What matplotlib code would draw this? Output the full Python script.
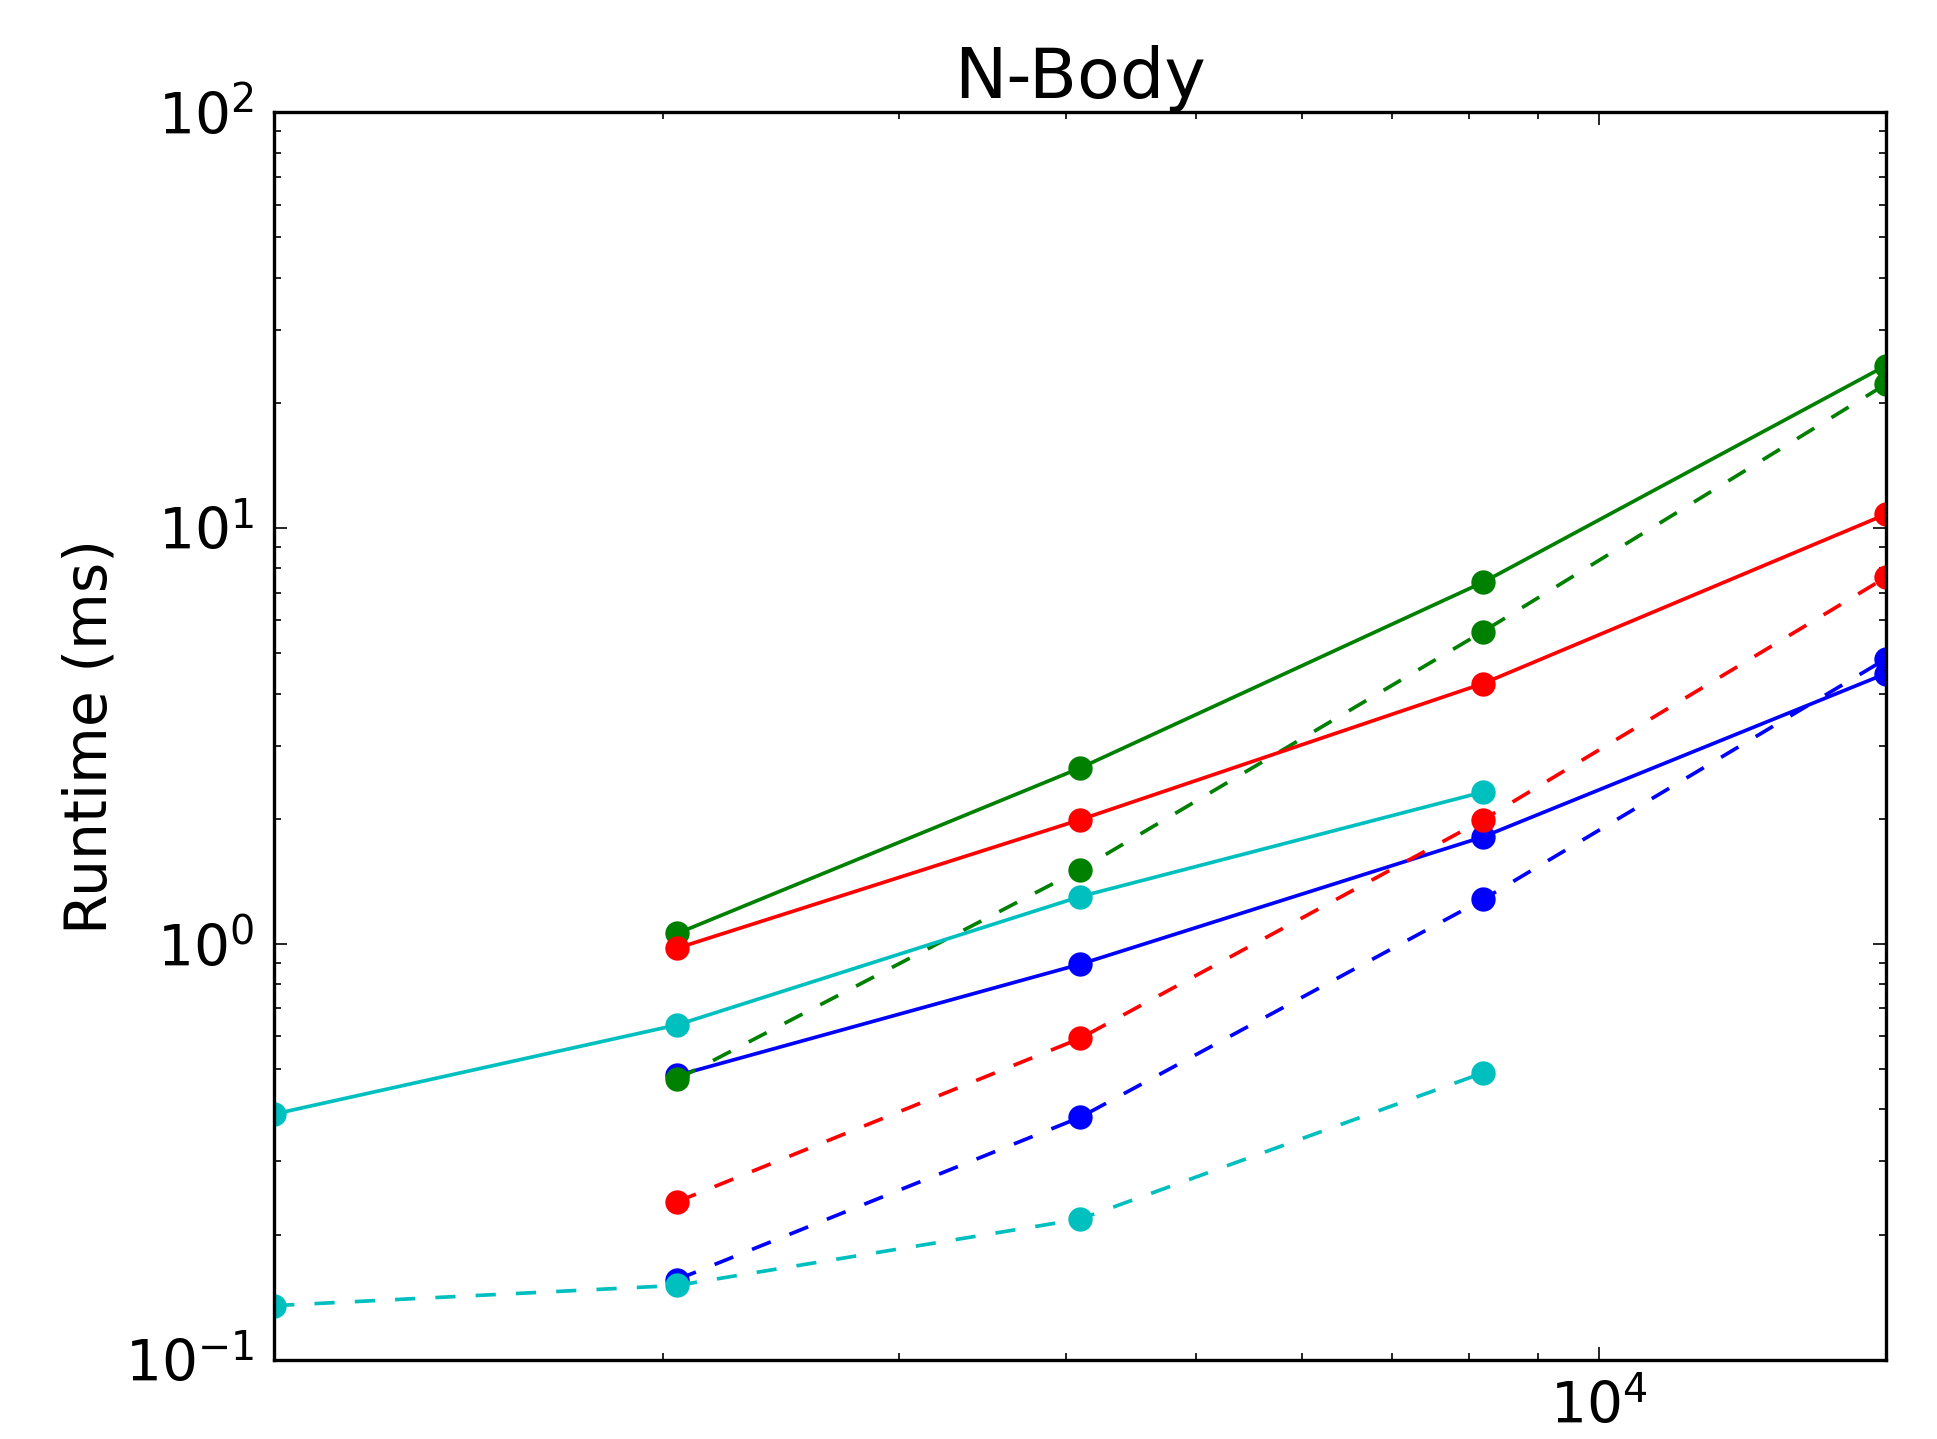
import matplotlib
matplotlib.use("Agg")
import matplotlib.pyplot as plt

sizes = [1024, 2048, 4096, 8192, 16384]

blue_solid = [None, 0.483, 0.894, 1.81, 4.47]
blue_dashed = [None, 0.156, 0.383, 1.28, 4.85]
green_solid = [None, 1.06, 2.65, 7.41, 24.6]
green_dashed = [None, 0.473, 1.51, 5.64, 22.2]
red_solid = [None, 0.977, 1.99, 4.23, 10.8]
red_dashed = [None, 0.240, 0.593, 1.99, 7.62]
cyan_solid = [0.390, 0.639, 1.30, 2.32, None]
cyan_dashed = [0.135, 0.151, 0.218, 0.490, None]

series = [
    (blue_solid, 'b', '-'), (blue_dashed, 'b', '--'),
    (green_solid, 'g', '-'), (green_dashed, 'g', '--'),
    (red_solid, 'r', '-'), (red_dashed, 'r', '--'),
    (cyan_solid, 'c', '-'), (cyan_dashed, 'c', '--'),
]
colors = {'b': '#0000ff', 'g': '#008000', 'r': '#ff0000', 'c': '#00bfbf'}

fig = plt.figure(figsize=(1938/240, 1439/240), dpi=240)
ax = fig.add_axes([0.1415, 0.055, 0.9732 - 0.1415, 0.922 - 0.055])

for vals, c, ls in series:
    xs = [x for x, v in zip(sizes, vals) if v is not None]
    ys = [v for v in vals if v is not None]
    line, = ax.plot(xs, ys, linestyle=ls, color=colors[c], marker='o', markersize=6.8,
                    markeredgewidth=0.5, markeredgecolor=colors[c], linewidth=1.1)
    if ls == '--':
        line.set_dashes((5.5, 5.5))

ax.set_xscale('log')
ax.set_yscale('log')
ax.set_xlim(1024, 16384)
ax.set_ylim(0.1, 100)

for s in ax.spines.values():
    s.set_linewidth(1.0)
ax.tick_params(which='both', direction='in', top=True, right=True, labelsize=17, width=0.5)
ax.tick_params(which='major', length=4, pad=6)
ax.tick_params(which='minor', length=2)

ax.set_title('N-Body', fontsize=21, pad=4)
ax.set_ylabel('Runtime (ms)', fontsize=17.5, labelpad=2)

fig.savefig('out.png', dpi=240)
